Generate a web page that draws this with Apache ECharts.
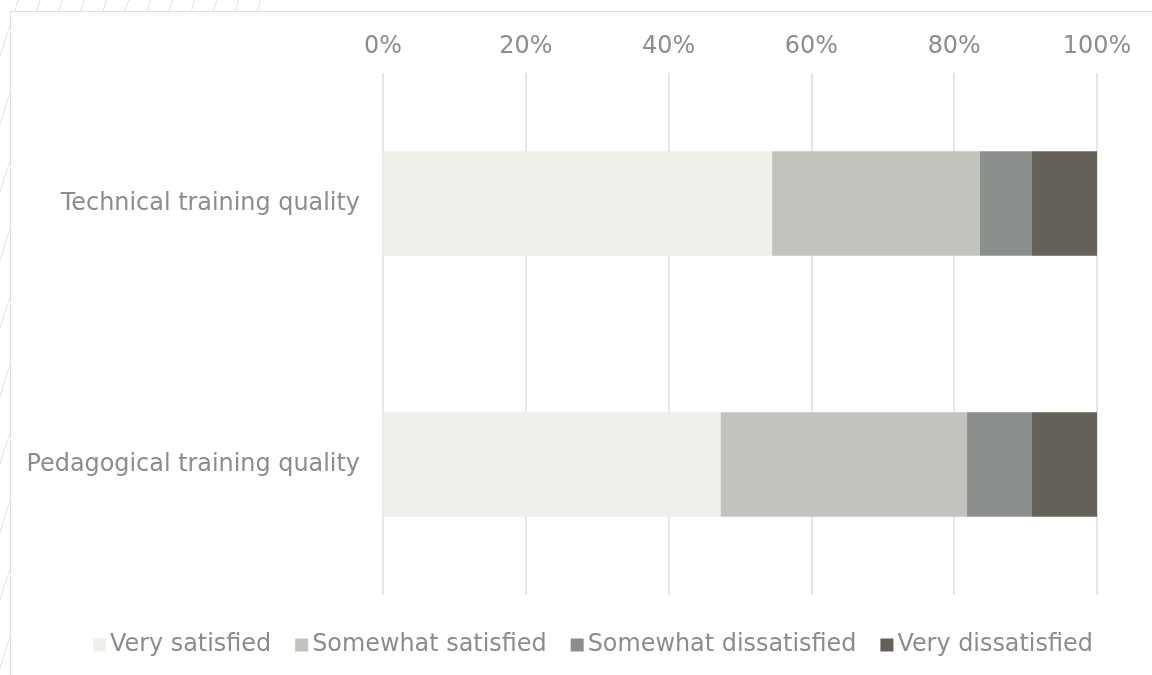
<!DOCTYPE html>
<html>
<head>
<meta charset="utf-8">
<script src="https://cdn.jsdelivr.net/npm/echarts@6/dist/echarts.min.js"></script>
<style>
  html, body { margin: 0; padding: 0; background: #ffffff; }
  #stage { position: relative; width: 1152px; height: 675px; overflow: hidden; }
  #hatch {
    position: absolute; left: 0; top: 0; width: 262px; height: 675px;
    background: repeating-linear-gradient(-72deg, transparent 0px, transparent 20px, #e4e4e4 20px, #e4e4e4 21px);
  }
  #panel {
    position: absolute; left: 10px; top: 11px; right: -2px; bottom: -2px;
    background: #ffffff; border: 1px solid #e2e2e2;
  }
  #chart { position: absolute; left: 0; top: 0; width: 1152px; height: 675px; }
</style>
</head>
<body>
<div id="stage">
  <div id="hatch"></div>
  <div id="panel"></div>
  <div id="chart"></div>
</div>
<script>
// Share of respondents per satisfaction level (percent)
const categories = ['Technical training quality', 'Pedagogical training quality'];
const seriesNames = ['Very satisfied', 'Somewhat satisfied', 'Somewhat dissatisfied', 'Very dissatisfied'];
const verySatisfied = [54.5, 47.3];
const somewhatSatisfied = [29.1, 34.5];
const somewhatDissatisfied = [7.3, 9.1];
const veryDissatisfied = [9.1, 9.1];
const palette = ['#f0efea', '#c2c3bd', '#8b8f8b', '#656159'];

const values = [verySatisfied, somewhatSatisfied, somewhatDissatisfied, veryDissatisfied];
const textColor = '#8c8c8c';
const fontFamily = 'DejaVu Sans, Verdana, sans-serif';
const fontSize = 23.9;

const chart = echarts.init(document.getElementById('chart'), null, { renderer: 'canvas' });
chart.setOption({
  animation: false,
  grid: { left: 383, right: 55, top: 73, bottom: 80, containLabel: false },
  legend: {
    data: seriesNames,
    bottom: 13,
    left: 88,
    itemWidth: 13,
    itemHeight: 13,
    itemGap: 24,
    icon: 'rect',
    textStyle: { color: textColor, fontSize: fontSize, fontFamily: fontFamily, padding: [0, 0, 0, -1] }
  },
  xAxis: {
    type: 'value',
    position: 'top',
    min: 0,
    max: 100,
    interval: 20,
    axisLine: { show: false },
    axisTick: { show: false },
    axisLabel: {
      formatter: v => v + '%',
      color: textColor,
      fontSize: fontSize,
      fontFamily: fontFamily,
      margin: 14
    },
    splitLine: { show: true, lineStyle: { color: '#e6e6e6', width: 2 } }
  },
  yAxis: {
    type: 'category',
    data: categories,
    inverse: true,
    axisLine: { show: false },
    axisTick: { show: false },
    axisLabel: {
      color: textColor,
      fontSize: fontSize,
      fontFamily: fontFamily,
      margin: 23
    }
  },
  series: seriesNames.map((name, i) => ({
    name: name,
    type: 'bar',
    stack: 'total',
    barCategoryGap: '60%',
    data: values[i],
    itemStyle: { color: palette[i] }
  }))
});
</script>
</body>
</html>
